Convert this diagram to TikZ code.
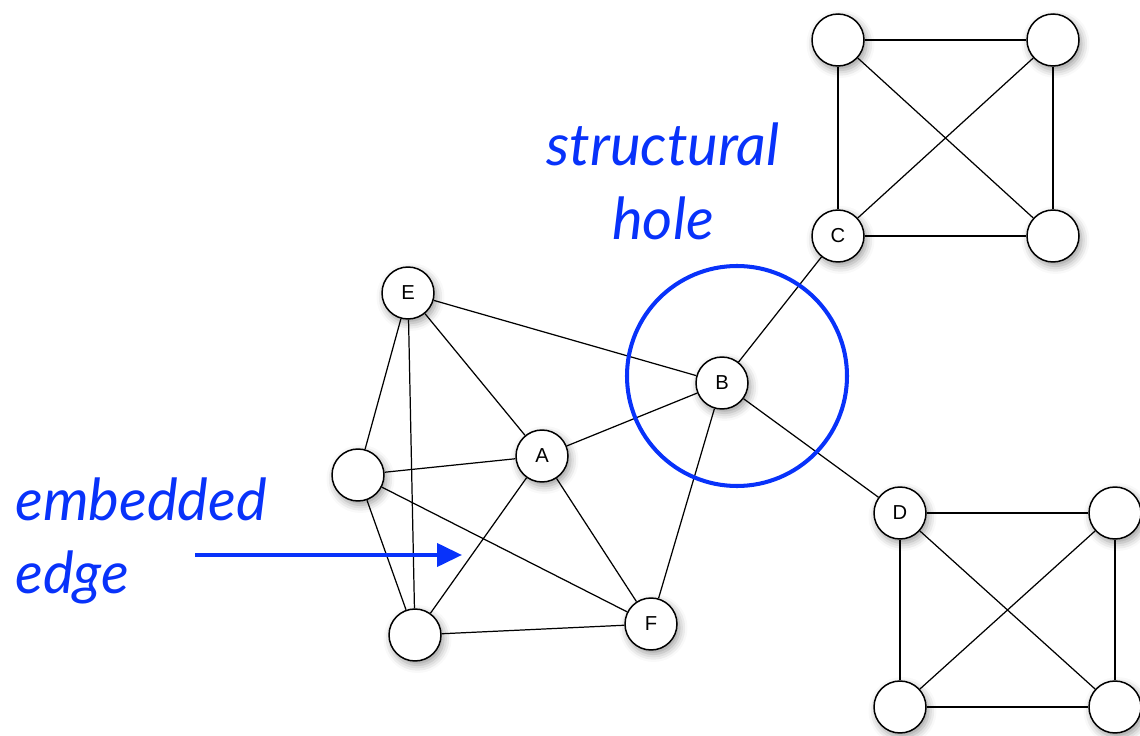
\documentclass[tikz,border=0pt]{standalone}
\usepackage{fontspec}
\setmainfont{Liberation Sans}
\newfontfamily\notefont{Lato}
\usetikzlibrary{arrows.meta, shadows.blur}
\definecolor{holeblue}{RGB}{8,50,250}

\begin{document}
\begin{tikzpicture}[x=0.02cm, y=-0.02cm,
  vertex/.style={circle, draw, line width=0.85pt, fill=white, minimum size=1.04cm, inner sep=0pt,
    font=\fontsize{11.5}{13}\selectfont,
    blur shadow={shadow xshift=0.05cm, shadow yshift=-0.08cm, shadow blur radius=0.16cm, shadow opacity=40}},
  link/.style={line width=0.7pt},
  note/.style={holeblue, font=\notefont\itshape\fontsize{33}{42}\selectfont, inner sep=0pt}]

\useasboundingbox (0,0) rectangle (1140,736);

% ---- central cluster ----
\node[vertex] (E) at (408,293) {E};
\node[vertex] (A) at (542,456) {A};
\node[vertex] (B) at (722,383) {B};
\node[vertex] (F) at (651,624) {F};
\node[vertex] (L) at (358,475) {};
\node[vertex] (K) at (415,635) {};
\foreach \a/\b in {E/B, E/A, E/L, E/K, L/A, L/F, L/K, A/B, A/F, A/K, K/F, F/B} {
  \draw[link] (\a) -- (\b);
}

% ---- top square ----
\node[vertex] (C) at (838,236) {C};
\node[vertex] (C1) at (838,40) {};
\node[vertex] (C2) at (1053,40) {};
\node[vertex] (C3) at (1053,236) {};
\foreach \a/\b in {C/C1, C1/C2, C2/C3, C3/C, C/C2, C1/C3} {
  \draw[link] (\a) -- (\b);
}

% ---- bottom square ----
\node[vertex] (D) at (900,513) {D};
\node[vertex] (D1) at (1115,513) {};
\node[vertex] (D2) at (1115,707) {};
\node[vertex] (D3) at (900,707) {};
\foreach \a/\b in {D/D1, D1/D2, D2/D3, D3/D, D/D2, D1/D3} {
  \draw[link] (\a) -- (\b);
}

% ---- bridges through B ----
\draw[link] (B) -- (C);
\draw[link] (B) -- (D);

% ---- annotations ----
\draw[holeblue, line width=2.3pt] (737,376) circle (110);
\node[note, align=center] (hole) at (663,181) {structural\\hole};
\node[note, align=left, anchor=west] (emb) at (15,541) {embedded\\edge};
\coordinate (tail) at (195,555);
\coordinate (head) at (462,555);
\draw[holeblue, line width=2.3pt, -{Triangle[length=0.5cm, width=0.46cm]}] (tail) -- (head);
\end{tikzpicture}
\end{document}
